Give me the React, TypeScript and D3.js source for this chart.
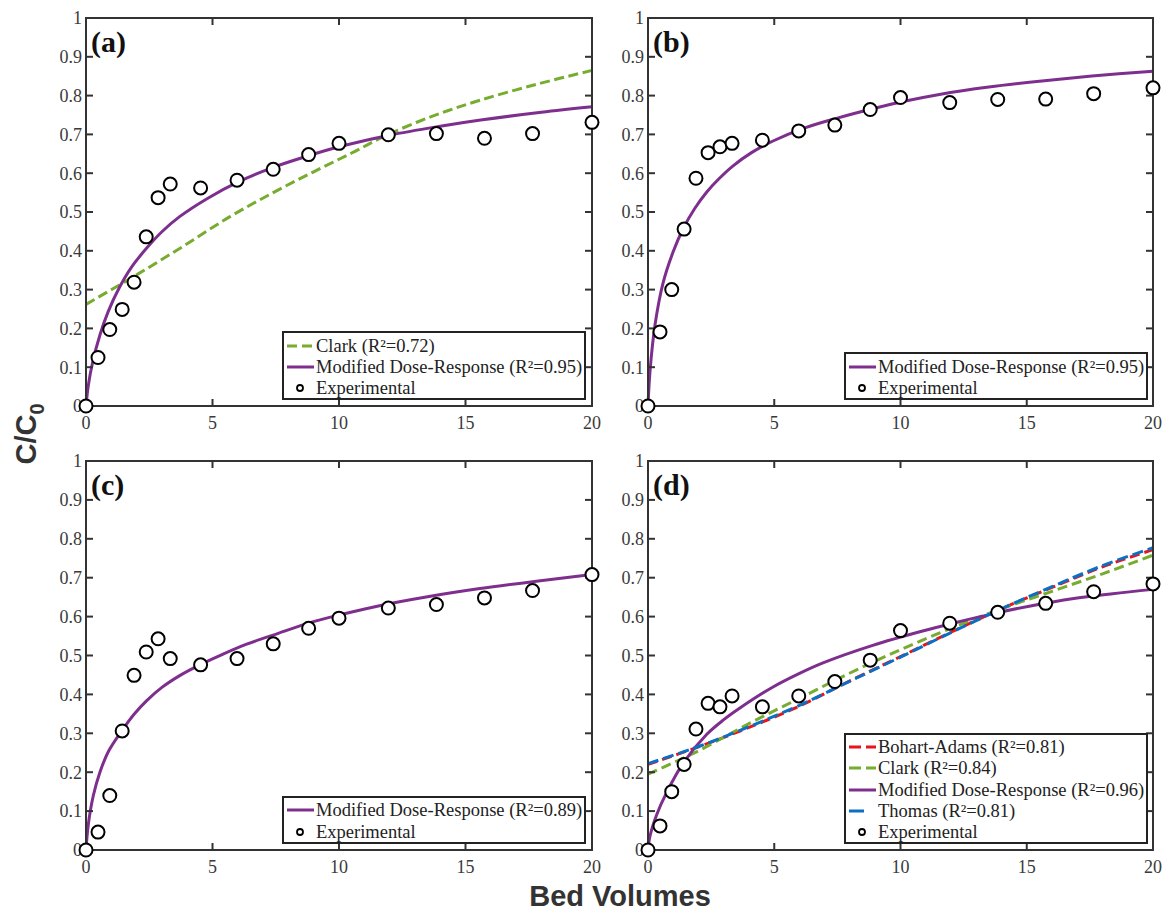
import React from 'react';
import * as d3 from 'd3';

// ---------- data ----------
const bedVolumes = [0, 0.475, 0.94, 1.43, 1.9, 2.38, 2.85, 3.33, 4.53, 5.97, 7.4, 8.8, 10, 11.95, 13.85, 15.75, 17.65, 20];
const expA = [0, 0.125, 0.197, 0.249, 0.319, 0.436, 0.537, 0.572, 0.562, 0.582, 0.610, 0.648, 0.677, 0.699, 0.702, 0.690, 0.702, 0.731];
const expB = [0, 0.191, 0.300, 0.456, 0.587, 0.653, 0.668, 0.677, 0.685, 0.709, 0.724, 0.764, 0.795, 0.782, 0.790, 0.791, 0.805, 0.820];
const expC = [0, 0.046, 0.140, 0.306, 0.449, 0.509, 0.543, 0.492, 0.476, 0.492, 0.530, 0.570, 0.596, 0.622, 0.631, 0.648, 0.667, 0.708];
const expD = [0, 0.062, 0.150, 0.220, 0.311, 0.377, 0.368, 0.396, 0.368, 0.396, 0.433, 0.488, 0.564, 0.583, 0.611, 0.634, 0.664, 0.684];

const mdrAx = [0, 0.09, 0.26, 0.55, 0.88, 1.3, 1.8, 2.4, 3.0, 3.7, 4.8, 6, 7.4, 8.7, 10, 12, 14, 15.6, 18, 20];
const mdrAy = [0, 0.052, 0.112, 0.183, 0.244, 0.303, 0.358, 0.407, 0.449, 0.488, 0.535, 0.577, 0.615, 0.643, 0.668, 0.698, 0.721, 0.737, 0.757, 0.771];
const clarkAx = [0, 1.87, 3.8, 5.69, 7.4, 8.98, 10.5, 11.88, 13.7, 15.57, 17.8, 20];
const clarkAy = [0.262, 0.333, 0.41, 0.488, 0.55, 0.603, 0.652, 0.698, 0.747, 0.788, 0.829, 0.865];

const mdrBx = [0, 0.08, 0.28, 0.6, 1.0, 1.4, 1.85, 2.32, 2.8, 3.37, 4.1, 4.95, 6.27, 7.5, 8.9, 10.2, 11.54, 13.5, 15.5, 17.7, 20];
const mdrBy = [0, 0.09, 0.21, 0.318, 0.398, 0.458, 0.509, 0.551, 0.585, 0.619, 0.653, 0.683, 0.718, 0.742, 0.766, 0.786, 0.803, 0.822, 0.837, 0.851, 0.863];

const mdrCx = [0, 0.09, 0.29, 0.55, 0.9, 1.41, 1.9, 2.4, 3.0, 3.72, 4.5, 5.4, 6.35, 7.6, 8.99, 10.2, 11.6, 13.5, 15.57, 17.8, 20];
const mdrCy = [0, 0.065, 0.14, 0.2, 0.255, 0.306, 0.349, 0.384, 0.418, 0.449, 0.476, 0.503, 0.529, 0.557, 0.587, 0.607, 0.628, 0.651, 0.672, 0.691, 0.708];

const mdrDx = [0, 0.08, 0.34, 0.74, 1.4, 2.32, 3.0, 3.64, 4.95, 6.0, 6.93, 8.9, 10.88, 12.2, 13.77, 15.2, 16.8, 18.4, 20];
const mdrDy = [0, 0.036, 0.09, 0.148, 0.224, 0.297, 0.335, 0.365, 0.419, 0.454, 0.481, 0.526, 0.563, 0.585, 0.609, 0.628, 0.646, 0.659, 0.67];
const fitDx = [0, 2, 4, 6, 8, 10, 12, 14, 16, 18, 20];
const clarkDy = [0.195, 0.255, 0.325, 0.39, 0.455, 0.515, 0.57, 0.62, 0.665, 0.71, 0.758];
const bohartDy = [0.22, 0.265, 0.315, 0.37, 0.435, 0.497, 0.56, 0.62, 0.675, 0.728, 0.772];
const thomasDy = [0.222, 0.266, 0.317, 0.372, 0.434, 0.496, 0.559, 0.62, 0.677, 0.731, 0.777];

const xTicks = [0, 5, 10, 15, 20];
const yTicks = [0, 0.1, 0.2, 0.3, 0.4, 0.5, 0.6, 0.7, 0.8, 0.9, 1];
const yTickLabels = ['0', '0.1', '0.2', '0.3', '0.4', '0.5', '0.6', '0.7', '0.8', '0.9', '1'];

// ---------- styles ----------
const PURPLE = '#7E2F8E';
const GREEN = '#77AC30';
const RED = '#E8141B';
const BLUE = '#0B6FC4';
const AXIS = '#333333';
const SERIF = '"Liberation Serif", "Times New Roman", serif';
const SANS = '"Liberation Sans", Arial, sans-serif';

type Curve = { name: string; xs: number[]; ys: number[]; color: string; dash?: string; legendDash?: string };
type Panel = {
  label: string; left: number; right: number; top: number; bottom: number;
  curves: Curve[]; exp: number[]; legend: { left: number; right: number; top: number; bottom: number; rows: number[] };
};

const panels: Panel[] = [
  {
    label: '(a)', left: 86, right: 592, top: 18, bottom: 406, exp: expA,
    curves: [
      { name: 'Clark (R²=0.72)', xs: clarkAx, ys: clarkAy, color: GREEN, dash: '10,4.5', legendDash: '10,5' },
      { name: 'Modified Dose-Response (R²=0.95)', xs: mdrAx, ys: mdrAy, color: PURPLE },
    ],
    legend: { left: 283, right: 585, top: 332, bottom: 399, rows: [346, 367, 388] },
  },
  {
    label: '(b)', left: 648, right: 1153, top: 18, bottom: 406, exp: expB,
    curves: [
      { name: 'Modified Dose-Response (R²=0.95)', xs: mdrBx, ys: mdrBy, color: PURPLE },
    ],
    legend: { left: 845, right: 1147, top: 353, bottom: 399, rows: [367, 388] },
  },
  {
    label: '(c)', left: 86, right: 592, top: 461, bottom: 850, exp: expC,
    curves: [
      { name: 'Modified Dose-Response (R²=0.89)', xs: mdrCx, ys: mdrCy, color: PURPLE },
    ],
    legend: { left: 283, right: 585, top: 797, bottom: 843, rows: [810, 832] },
  },
  {
    label: '(d)', left: 648, right: 1153, top: 461, bottom: 850, exp: expD,
    curves: [
      { name: 'Bohart-Adams (R²=0.81)', xs: fitDx, ys: bohartDy, color: RED, dash: '10,5', legendDash: '12,5' },
      { name: 'Clark (R²=0.84)', xs: fitDx, ys: clarkDy, color: GREEN, dash: '10,5', legendDash: '12,5' },
      { name: 'Modified Dose-Response (R²=0.96)', xs: mdrDx, ys: mdrDy, color: PURPLE },
      { name: 'Thomas (R²=0.81)', xs: fitDx, ys: thomasDy, color: BLUE, dash: '11,5', legendDash: '15,40' },
    ],
    legend: { left: 845, right: 1147, top: 734, bottom: 843, rows: [747, 768, 790, 811, 832] },
  },
];

function PanelView({ p }: { p: Panel }) {
  const x = d3.scaleLinear().domain([0, 20]).range([p.left, p.right]);
  const y = d3.scaleLinear().domain([0, 1]).range([p.bottom, p.top]);
  const tick = 7;
  const line = d3.line<[number, number]>().x(d => x(d[0])).y(d => y(d[1])).curve(d3.curveCatmullRom.alpha(0.5));
  const lg = p.legend;
  return (
    <g>
      {p.curves.map((c, i) => (
        <path key={i} d={line(c.xs.map((v, j) => [v, c.ys[j]] as [number, number])) || ''}
          fill="none" stroke={c.color} strokeWidth={3} strokeDasharray={c.dash} />
      ))}
      <rect x={p.left} y={p.top} width={p.right - p.left} height={p.bottom - p.top}
        fill="none" stroke={AXIS} strokeWidth={2} />
      {yTicks.map((t, i) => (
        <g key={'y' + i}>
          <line x1={p.left} x2={p.left + tick} y1={y(t)} y2={y(t)} stroke={AXIS} strokeWidth={2} />
          <line x1={p.right} x2={p.right - tick} y1={y(t)} y2={y(t)} stroke={AXIS} strokeWidth={2} />
          <text x={p.left - 4} y={y(t)} dy="0.35em" textAnchor="end" fontFamily={SERIF} fontSize={18} fill="#3a3a3a">{yTickLabels[i]}</text>
        </g>
      ))}
      {xTicks.map((t, i) => (
        <g key={'x' + i}>
          <line x1={x(t)} x2={x(t)} y1={p.bottom} y2={p.bottom - tick} stroke={AXIS} strokeWidth={2} />
          <line x1={x(t)} x2={x(t)} y1={p.top} y2={p.top + tick} stroke={AXIS} strokeWidth={2} />
          <text x={x(t)} y={p.bottom + 23} textAnchor="middle" fontFamily={SERIF} fontSize={18} fill="#3a3a3a">{t}</text>
        </g>
      ))}
      {p.exp.map((v, i) => (
        <circle key={'p' + i} cx={x(bedVolumes[i])} cy={y(v)} r={6.5} fill="#fff" stroke="#000" strokeWidth={2} />
      ))}
      <text x={p.left + 5} y={p.top + 34} fontFamily={SERIF} fontWeight="bold" fontSize={30} fill="#111">{p.label}</text>
      <rect x={lg.left} y={lg.top} width={lg.right - lg.left} height={lg.bottom - lg.top} fill="#fff" stroke="#222" strokeWidth={2} />
      {p.curves.map((c, i) => (
        <g key={'l' + i}>
          <line x1={lg.left + 4} x2={lg.left + 31} y1={lg.rows[i]} y2={lg.rows[i]} stroke={c.color} strokeWidth={3} strokeDasharray={c.legendDash} />
          <text x={lg.left + 33} y={lg.rows[i]} dy="0.35em" fontFamily={SERIF} fontSize={18.5} fill="#222">{c.name}</text>
        </g>
      ))}
      <circle cx={lg.left + 17} cy={lg.rows[p.curves.length]} r={3} fill="#fff" stroke="#000" strokeWidth={1.8} />
      <text x={lg.left + 33} y={lg.rows[p.curves.length]} dy="0.35em" fontFamily={SERIF} fontSize={18.5} fill="#222">Experimental</text>
    </g>
  );
}

export default function App() {
  return (
    <svg width={1164} height={913} style={{ position: 'absolute', left: 0, top: 0, background: '#fff' }}>
      <rect x={0} y={0} width={1164} height={913} fill="#fff" />
      {panels.map((p, i) => <PanelView key={i} p={p} />)}
      <text x={620} y={906} textAnchor="middle" fontFamily={SANS} fontWeight="bold" fontSize={29} fill="#333">Bed Volumes</text>
      <text transform="translate(36,434) rotate(-90)" textAnchor="middle" fontFamily={SANS} fontWeight="bold" fontSize={29} fill="#333">
        C/C<tspan fontSize={20} dy={8}>0</tspan>
      </text>
    </svg>
  );
}
